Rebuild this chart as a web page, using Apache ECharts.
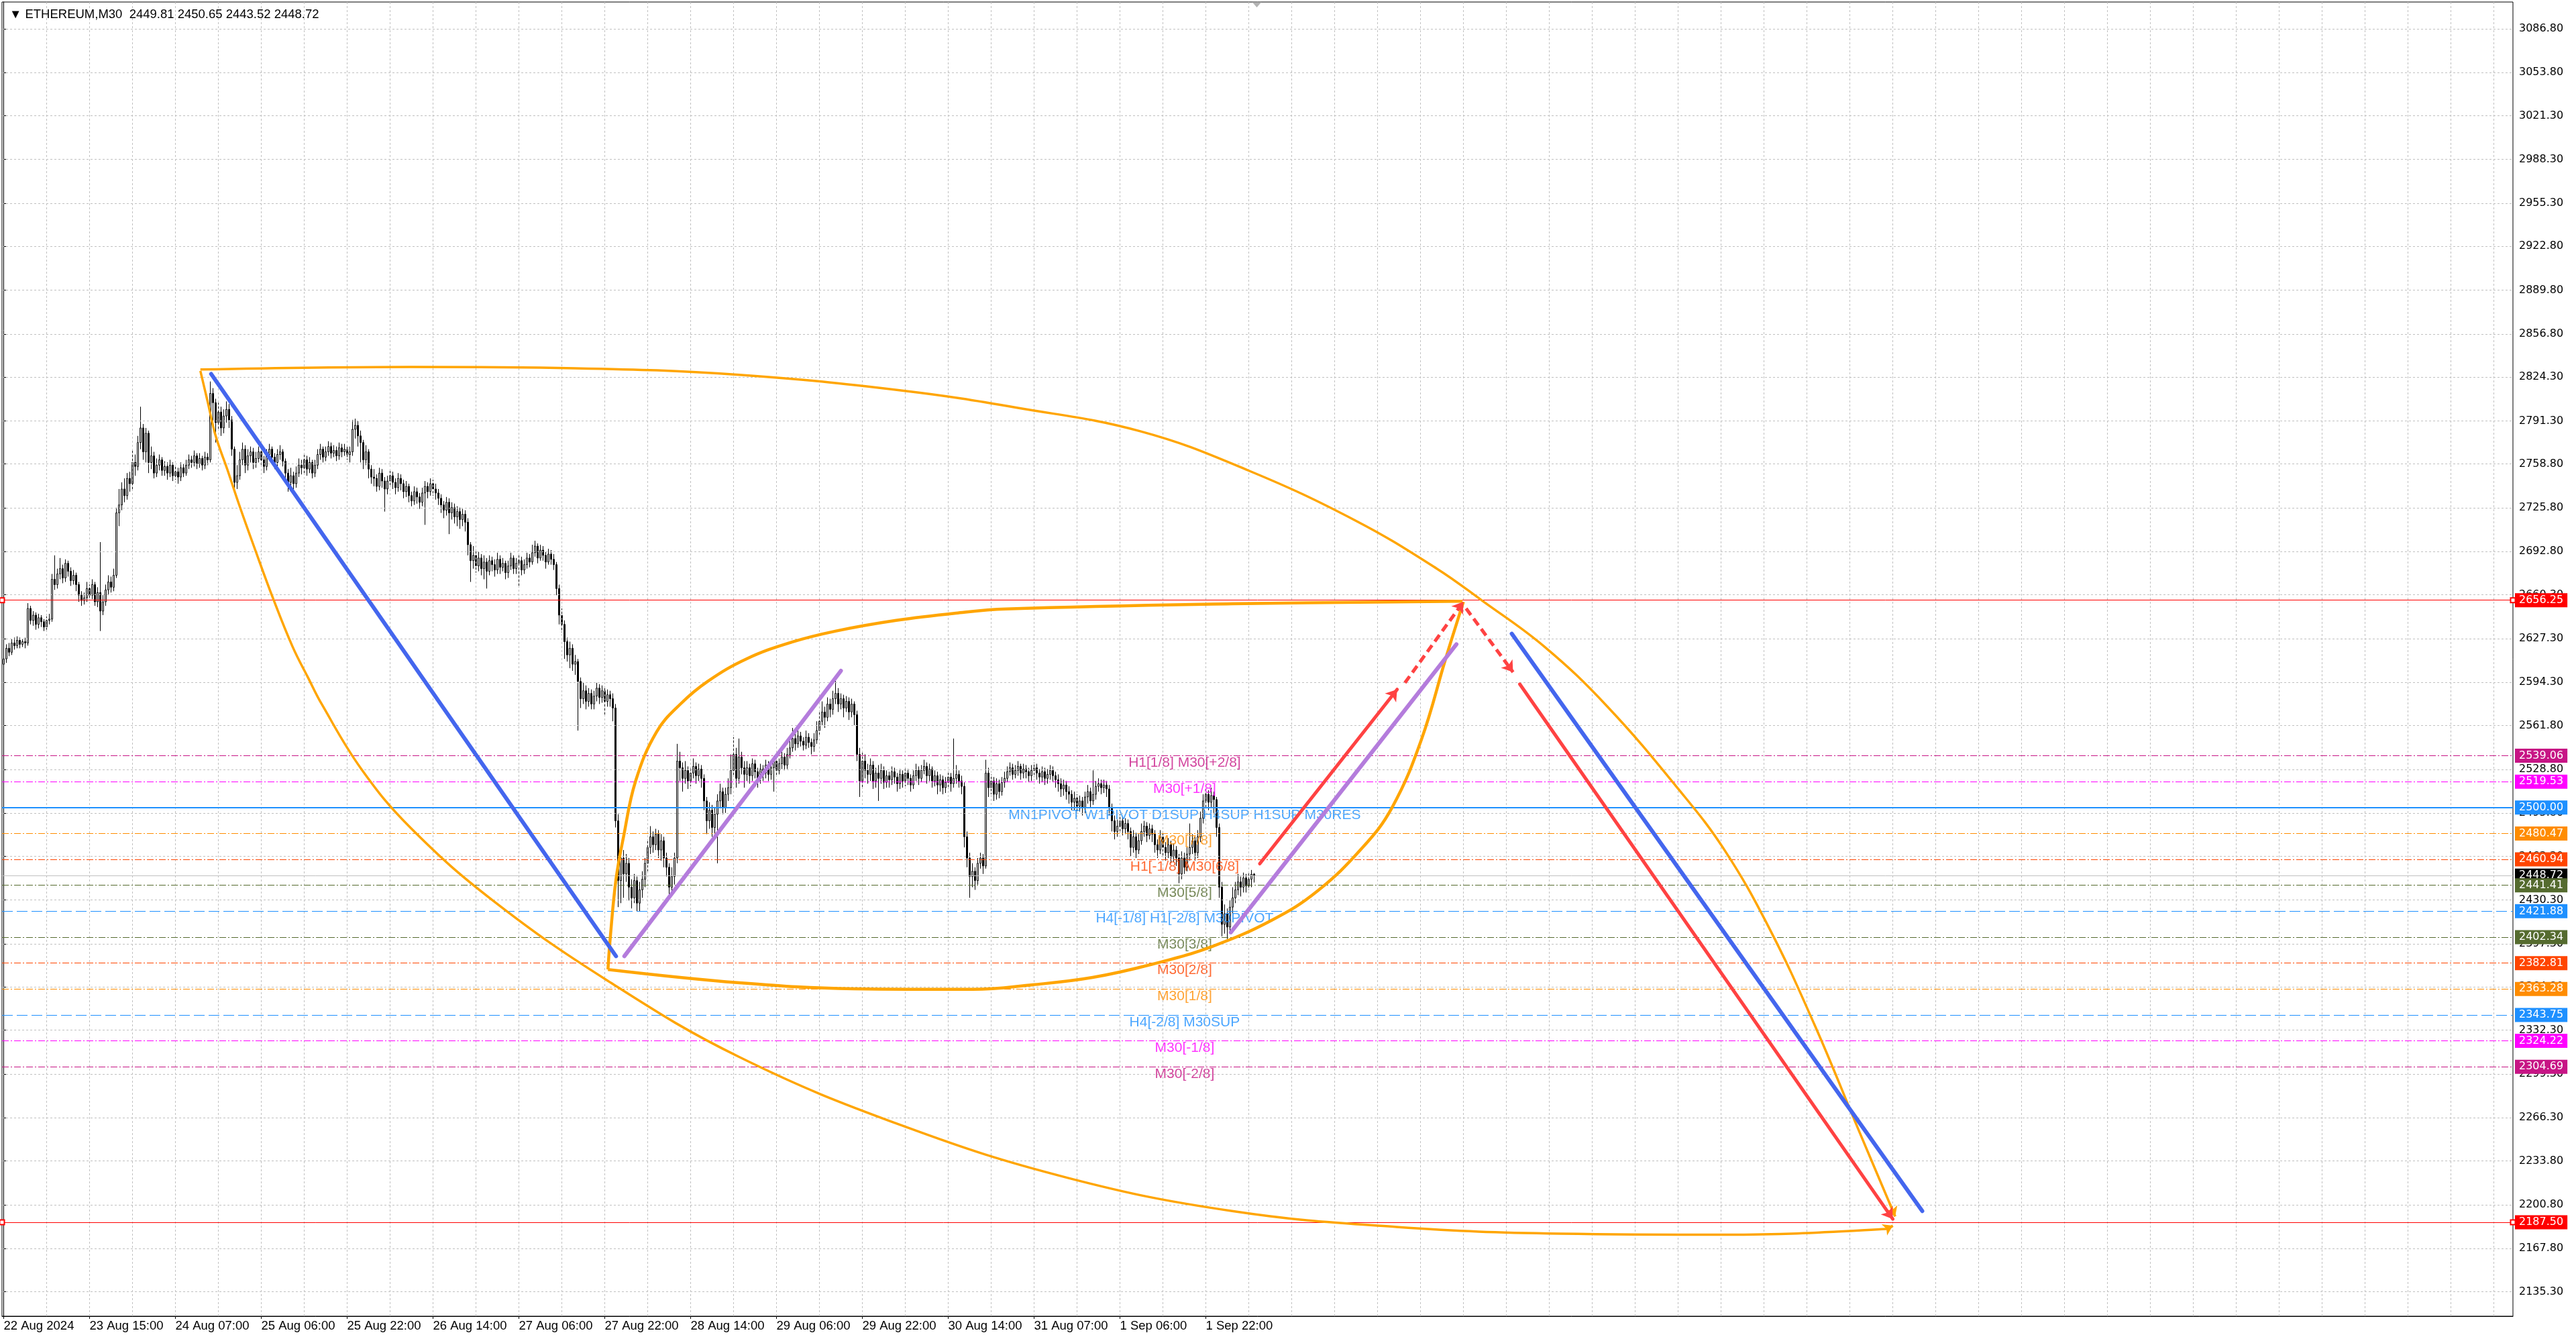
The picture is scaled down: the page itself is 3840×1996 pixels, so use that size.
<!DOCTYPE html>
<html><head><meta charset="utf-8">
<script src="https://cdn.jsdelivr.net/npm/echarts@6/dist/echarts.min.js"></script>
<style>html,body{margin:0;padding:0;background:#fff}#c{width:3840px;height:1996px}</style>
</head><body><div id="c"></div>
<script>
// ---------------- DATA ----------------
const headerOHLC = [2449.81, 2450.65, 2443.52, 2448.72];
const timeLabels = ['22 Aug 2024','23 Aug 15:00','24 Aug 07:00','25 Aug 06:00','25 Aug 22:00','26 Aug 14:00','27 Aug 06:00','27 Aug 22:00','28 Aug 14:00','29 Aug 06:00','29 Aug 22:00','30 Aug 14:00','31 Aug 07:00','1 Sep 06:00','1 Sep 22:00'];
const timeLabelBars = [0,32,64,96,128,160,192,224,256,288,320,352,384,416,448];
const priceTicks = [3086.80,3053.80,3021.30,2988.30,2955.30,2922.80,2889.80,2856.80,2824.30,2791.30,2758.80,2725.80,2692.80,2660.30,2627.30,2594.30,2561.80,2528.80,2495.80,2463.30,2430.30,2397.30,2364.80,2332.30,2299.30,2266.30,2233.80,2200.80,2167.80,2135.30];

const firstOpen = 2608;
const closes = [
2612,2620,2617,2624,2622,2626,2623,2625,2624,2650,
2641,2645,2638,2643,2640,2636,2641,2642,2672,2668,
2676,2680,2673,2684,2678,2671,2675,2668,2660,2656,
2658,2665,2660,2668,2655,2662,2648,2655,2664,2670,
2666,2675,2722,2728,2740,2735,2748,2744,2760,2757,
2775,2786,2768,2782,2760,2765,2752,2758,2762,2754,
2757,2752,2758,2750,2753,2749,2756,2752,2758,2762,
2760,2765,2759,2763,2758,2764,2762,2812,2805,2790,
2798,2786,2795,2800,2792,2770,2745,2750,2762,2770,
2758,2765,2768,2760,2763,2768,2762,2757,2766,2770,
2764,2760,2766,2768,2761,2752,2745,2750,2744,2752,
2758,2756,2762,2755,2760,2752,2758,2766,2770,2764,
2768,2772,2767,2769,2765,2771,2768,2770,2766,2768,
2785,2788,2780,2775,2762,2768,2755,2749,2748,2742,
2752,2746,2740,2746,2750,2745,2741,2748,2744,2738,
2742,2735,2731,2738,2734,2730,2737,2742,2738,2744,
2740,2737,2733,2728,2724,2730,2722,2726,2719,2723,
2717,2721,2715,2698,2686,2690,2682,2688,2680,2685,
2678,2686,2683,2679,2687,2681,2684,2677,2682,2688,
2680,2684,2686,2679,2683,2688,2685,2692,2697,2688,
2694,2690,2685,2691,2687,2683,2665,2645,2638,2625,
2615,2620,2608,2610,2595,2582,2588,2580,2586,2578,
2584,2590,2583,2588,2580,2585,2582,2575,2490,2445,
2462,2450,2458,2440,2432,2445,2428,2438,2446,2458,
2470,2478,2472,2480,2468,2475,2462,2455,2440,2448,
2462,2535,2530,2522,2528,2520,2526,2531,2524,2529,
2522,2505,2490,2498,2485,2495,2505,2512,2500,2510,
2515,2528,2540,2522,2538,2530,2525,2530,2524,2533,
2527,2522,2529,2526,2532,2525,2530,2535,2528,2533,
2538,2532,2540,2545,2552,2548,2554,2550,2547,2553,
2549,2546,2551,2558,2565,2572,2568,2578,2574,2582,
2586,2578,2582,2575,2580,2572,2578,2570,2540,2520,
2535,2528,2525,2532,2520,2526,2522,2528,2519,2524,
2521,2527,2523,2518,2525,2520,2526,2522,2517,2524,
2528,2522,2528,2531,2524,2529,2520,2524,2517,2521,
2515,2519,2523,2518,2522,2525,2520,2516,2478,2462,
2448,2452,2445,2458,2462,2456,2526,2515,2520,2510,
2518,2512,2519,2522,2527,2530,2525,2528,2531,2526,
2529,2527,2524,2528,2530,2526,2523,2527,2522,2525,
2528,2524,2521,2518,2514,2517,2512,2510,2504,2507,
2501,2505,2500,2508,2512,2505,2510,2516,2518,2515,
2517,2514,2500,2490,2482,2486,2490,2484,2488,2482,
2470,2478,2468,2475,2482,2486,2479,2484,2480,2472,
2468,2478,2470,2466,2472,2463,2468,2462,2450,2462,
2455,2465,2470,2475,2466,2478,2492,2505,2510,2504,
2509,2506,2485,2440,2412,2420,2410,2425,2432,2438,
2444,2440,2447,2441,2446,2449.81,2448.72];
const highs = [
2626,2623,2624,2627,2628,2629,2628,2627,2628,2654,
2652,2648,2647,2646,2645,2642,2644,2646,2676,2690,
2680,2688,2683,2687,2686,2681,2679,2677,2670,2663,
2662,2670,2668,2672,2670,2666,2700,2660,2668,2675,
2674,2680,2726,2740,2745,2748,2752,2753,2770,2766,
2780,2802,2789,2786,2784,2772,2768,2763,2766,2764,
2761,2760,2762,2760,2757,2756,2760,2759,2762,2766,
2765,2769,2767,2767,2765,2768,2767,2821,2816,2808,
2805,2802,2800,2806,2804,2795,2772,2758,2768,2775,
2773,2770,2772,2771,2768,2772,2771,2765,2770,2774,
2772,2767,2770,2773,2770,2763,2755,2756,2753,2757,
2763,2762,2766,2765,2764,2762,2762,2770,2774,2772,
2772,2776,2775,2773,2772,2775,2774,2774,2773,2772,
2792,2793,2791,2784,2777,2773,2770,2758,2755,2751,
2756,2755,2749,2750,2754,2753,2748,2752,2751,2747,
2746,2744,2738,2742,2741,2737,2741,2746,2745,2748,
2747,2744,2740,2736,2731,2734,2733,2730,2729,2727,
2726,2725,2724,2718,2700,2697,2694,2693,2691,2690,
2688,2690,2689,2687,2692,2690,2688,2686,2686,2692,
2690,2688,2690,2689,2687,2692,2691,2698,2701,2699,
2698,2697,2693,2695,2694,2691,2685,2668,2650,2641,
2628,2625,2623,2615,2612,2598,2594,2592,2590,2589,
2588,2594,2593,2592,2591,2589,2588,2586,2578,2495,
2472,2468,2465,2462,2446,2450,2448,2444,2452,2462,
2475,2486,2482,2484,2483,2480,2478,2466,2458,2455,
2466,2548,2542,2534,2535,2531,2530,2537,2534,2533,
2532,2525,2508,2504,2502,2500,2510,2518,2515,2515,
2522,2540,2553,2545,2552,2542,2535,2535,2533,2537,
2536,2530,2533,2532,2536,2535,2534,2539,2538,2537,
2542,2541,2545,2550,2560,2556,2558,2557,2553,2558,
2556,2552,2556,2565,2572,2580,2576,2583,2582,2588,
2597,2590,2586,2585,2584,2583,2582,2580,2573,2545,
2542,2540,2533,2537,2535,2530,2532,2533,2531,2528,
2527,2531,2530,2526,2529,2528,2530,2529,2525,2528,
2533,2531,2532,2536,2534,2533,2531,2528,2527,2525,
2524,2523,2527,2526,2552,2532,2528,2524,2519,2482,
2466,2458,2455,2462,2466,2465,2536,2530,2525,2523,
2522,2521,2523,2527,2531,2534,2533,2532,2535,2533,
2533,2532,2530,2532,2534,2533,2529,2531,2530,2529,
2532,2531,2527,2525,2522,2521,2520,2516,2513,2512,
2510,2509,2508,2512,2517,2515,2528,2520,2522,2521,
2521,2520,2517,2503,2494,2491,2495,2493,2492,2491,
2485,2483,2481,2480,2488,2490,2489,2488,2487,2483,
2476,2483,2481,2474,2477,2475,2473,2471,2465,2467,
2466,2470,2488,2480,2478,2483,2497,2510,2515,2513,
2515,2512,2508,2488,2444,2427,2424,2430,2440,2444,
2450,2448,2451,2450,2451,2453,2450.65];
const lows = [
2606,2609,2614,2615,2619,2620,2620,2621,2620,2622,
2638,2637,2634,2635,2636,2633,2634,2638,2640,2664,
2665,2672,2669,2670,2674,2667,2668,2663,2655,2652,
2653,2655,2656,2657,2652,2651,2633,2645,2652,2660,
2662,2663,2673,2712,2724,2730,2732,2738,2740,2750,
2754,2770,2762,2760,2752,2755,2748,2749,2754,2750,
2750,2747,2749,2746,2747,2744,2746,2749,2750,2755,
2756,2757,2755,2756,2754,2755,2758,2760,2790,2775,
2785,2780,2782,2790,2786,2765,2738,2740,2747,2758,
2752,2754,2760,2755,2756,2760,2757,2752,2754,2762,
2760,2755,2757,2762,2757,2748,2738,2741,2739,2741,
2749,2751,2752,2750,2752,2748,2749,2755,2762,2760,
2761,2765,2763,2764,2761,2762,2764,2765,2762,2760,
2765,2778,2772,2760,2755,2758,2748,2744,2742,2738,
2739,2741,2723,2736,2742,2740,2736,2738,2739,2733,
2734,2730,2727,2728,2729,2725,2727,2713,2733,2735,
2735,2732,2728,2722,2718,2720,2706,2717,2714,2712,
2710,2712,2708,2690,2670,2680,2677,2678,2675,2672,
2665,2675,2678,2674,2676,2676,2678,2672,2673,2679,
2676,2676,2667,2675,2676,2680,2681,2683,2689,2684,
2686,2686,2680,2683,2683,2679,2660,2638,2632,2612,
2610,2605,2603,2600,2558,2575,2578,2574,2576,2574,
2574,2580,2578,2579,2570,2576,2576,2565,2485,2425,
2428,2432,2444,2430,2424,2428,2422,2422,2432,2440,
2452,2465,2466,2468,2462,2460,2455,2448,2434,2436,
2442,2458,2520,2512,2518,2514,2516,2522,2518,2520,
2515,2498,2480,2484,2478,2480,2458,2500,2495,2496,
2505,2510,2524,2515,2518,2525,2515,2520,2518,2520,
2522,2515,2518,2520,2522,2520,2521,2512,2524,2525,
2529,2528,2529,2537,2542,2543,2545,2546,2543,2544,
2545,2540,2542,2548,2555,2562,2560,2565,2568,2570,
2578,2572,2574,2568,2572,2566,2568,2562,2535,2508,
2515,2522,2518,2520,2514,2515,2505,2518,2514,2515,
2515,2517,2518,2512,2514,2515,2516,2517,2512,2514,
2520,2517,2519,2525,2518,2520,2515,2516,2510,2512,
2510,2511,2514,2512,2515,2518,2515,2510,2470,2455,
2432,2440,2438,2442,2454,2450,2454,2508,2510,2505,
2506,2507,2509,2515,2519,2524,2521,2522,2524,2521,
2522,2522,2519,2520,2523,2521,2518,2519,2517,2518,
2521,2519,2515,2512,2508,2509,2506,2503,2498,2498,
2496,2497,2494,2496,2503,2500,2502,2506,2512,2510,
2511,2508,2494,2482,2476,2478,2481,2479,2480,2476,
2463,2466,2462,2465,2472,2478,2474,2476,2474,2466,
2462,2465,2464,2460,2462,2458,2459,2456,2443,2446,
2450,2452,2460,2465,2460,2462,2474,2488,2500,2498,
2500,2495,2478,2432,2403,2405,2401,2407,2420,2428,
2434,2433,2436,2436,2438,2440,2443.52];

// Murrey-style levels
const levelPrices = [2539.06,2519.53,2500.00,2480.47,2460.94,2441.41,2421.88,2402.34,2382.81,2363.28,2343.75,2324.22,2304.69];
const levelNames = ['H1[1/8] M30[+2/8]','M30[+1/8]','MN1PIVOT W1PIVOT D1SUP H4SUP H1SUP M30RES','M30[7/8]','H1[-1/8] M30[6/8]','M30[5/8]','H4[-1/8] H1[-2/8] M30PIVOT','M30[3/8]','M30[2/8]','M30[1/8]','H4[-2/8] M30SUP','M30[-1/8]','M30[-2/8]'];
const targetLevels = [2656.25, 2187.50];
const currentPrice = 2448.72;

// Drawn objects: [bar index, price]
const arcTop = [[73.3,2830],[151.7,2832],[212.9,2831],[274.2,2826],[335.4,2814],[378.3,2801],[423.6,2783.5],[463.8,2754],[504,2716],[534.1,2680],[550.9,2656],[574.3,2621],[597.7,2576],[624.5,2513],[641.3,2468],[658,2409],[674.7,2337],[691.5,2256],[704.9,2192]];
const arcOuterLow = [[73.3,2829],[76.1,2805],[79,2780],[83.3,2755],[87.6,2729],[93.4,2696],[100.5,2657],[107.7,2621],[113.4,2598],[118.5,2578],[133.3,2529],[151.7,2484.6],[182.3,2430],[225.2,2369.4],[274.2,2312],[335.4,2260],[396.6,2221],[457.8,2196],[519.1,2184],[580.3,2179],[641.5,2178.2],[701.5,2182.5],[704,2185]];
const arcInnerHigh = [[225.2,2378],[226,2400.7],[228.2,2446],[231,2478],[235.5,2520],[243.3,2557],[252.2,2578],[262.3,2595],[276.8,2612],[293.5,2624.5],[310.2,2633],[332.6,2641],[354.9,2646.5],[373.6,2649.6],[457.9,2653.5],[543.6,2655.5]];
const arcInnerLow = [[225.2,2378],[274.2,2368],[317,2363.5],[361.1,2363],[383.5,2366.5],[405.8,2372],[428.1,2382],[450.4,2395.4],[472.7,2415.3],[489.5,2437],[506.2,2469.4],[517.4,2500],[528.3,2551],[537.5,2613],[544,2655]];
const blueLines = [[[77.3,2826.7],[228.2,2388]], [[562,2631],[715,2196]]];
const purpleLines = [[[231.3,2388],[312,2603]], [[457.3,2406],[541.4,2623]]];
const redSolid = [[[468.1,2457.7],[519.3,2589]], [[565,2593],[704,2190]]];
const redDashed = [[[522.2,2594],[544,2655]], [[545,2650],[562.5,2602]]];

// ---------------- LAYOUT / STYLE ----------------
const X_MIN = -0.625, X_MAX = 935.125, Y_MIN = 2116.8, Y_MAX = 3106.9;
const LABEL_BAR = 440.1;
const levelColors = ['#C71585','#FF00FF','#1E90FF','#FF8C00','#FF4500','#556B2F','#1E90FF','#556B2F','#FF4500','#FF8C00','#1E90FF','#FF00FF','#C71585'];
const levelKinds = ['dd','dd','solid','dd','dd','dd','dash','dd','dd','dd','dash','dd','dd'];
const DASHDOT = [10,3,2,3], DASH = [16,6];
const boxFont = {fontFamily:'DejaVu Sans', fontSize:16, lineHeight:17, color:'#fff', padding:[2,6,2,6]};

const candleData = closes.map((c,i) => [i, i===0 ? firstOpen : closes[i-1], c, lows[i], highs[i]]);

const vGrid = []; for (let b = 16; b < X_MAX; b += 16) vGrid.push({xAxis: b});
const hGrid = priceTicks.map(t => ({yAxis: t}));

function boxLabel(bg, v){ return Object.assign({show:true, position:'end', distance:3, backgroundColor:bg, formatter: v.toFixed(2)}, boxFont); }

const levelMarks = levelPrices.map((p,i) => ({
  yAxis: p,
  lineStyle: {color: levelColors[i], width: levelKinds[i]==='solid'?2:1, type: levelKinds[i]==='solid'?'solid':(levelKinds[i]==='dash'?DASH:DASHDOT)},
  label: boxLabel(levelColors[i], p)
}));

function arrowSeg(pts){ const a = pts[pts.length-2], b = pts[pts.length-1]; const t = 0.85; return [[a[0]+(b[0]-a[0])*t, a[1]+(b[1]-a[1])*t], b]; }

const ORANGE = '#FFA500', BLUE = '#4466EE', PURPLE = '#B47CDC', RED = '#FF4242';
const curve = (pts, w) => ({type:'line', data: pts, smooth: 0.4, showSymbol:false, symbol:'none', lineStyle:{color:ORANGE, width:w}, z:5, silent:true, clip:true});
const seg = (data, color, w, extra) => Object.assign({type:'lines', coordinateSystem:'cartesian2d', z:6, silent:true, symbol:'none',
  lineStyle:{color:color, width:w, opacity:1, cap:'round'}, data: data.map(c=>({coords:c}))}, extra||{});

const option = {
  animation: false,
  backgroundColor: '#ffffff',
  title: {text: '\u25BC ETHEREUM,M30  ' + headerOHLC.map(v=>v.toFixed(2)).join(' '), left: 9, top: 7,
    textStyle: {fontFamily:'Liberation Sans', fontSize:18.5, fontWeight:'normal', color:'#000'}},
  grid: {left: 3, right: 94, top: 3, bottom: 34, show: true, borderColor: '#000', borderWidth: 1},
  xAxis: {type:'value', min:X_MIN, max:X_MAX,
    axisLine:{show:true, lineStyle:{color:'#000'}}, splitLine:{show:false},
    axisTick:{show:true, customValues: timeLabelBars, length:4, lineStyle:{color:'#000'}},
    axisLabel:{customValues: timeLabelBars, formatter: v => timeLabels[timeLabelBars.indexOf(Math.round(v))] || '', align:'left', margin:5,
      fontFamily:'Liberation Sans', fontSize:18.5, color:'#000'}},
  yAxis: {type:'value', position:'right', min:Y_MIN, max:Y_MAX,
    axisLine:{show:true, lineStyle:{color:'#000'}}, splitLine:{show:false},
    axisTick:{show:true, customValues: priceTicks, length:4, lineStyle:{color:'#000'}},
    axisLabel:{customValues: priceTicks, formatter: v => v.toFixed(2), margin:9, fontFamily:'DejaVu Sans', fontSize:16, color:'#000'}},
  series: [
    {type:'line', data:[], z:1, silent:true,
      markLine:{silent:true, symbol:'none', animation:false, label:{show:false},
        lineStyle:{color:'#C0C0C0', width:1, type:[3,3]}, data: vGrid.concat(hGrid)}},
    {type:'line', data:[], z:2, silent:true,
      markLine:{silent:true, symbol:'none', animation:false,
        data:[{yAxis: currentPrice, lineStyle:{color:'#C0C0C0', width:1, type:'solid'}, label: boxLabel('#000000', currentPrice)}]}},
    {type:'line', data:[], z:2, silent:true,
      markLine:{silent:true, symbol:'none', animation:false, data: levelMarks}},
    {type:'line', data:[], z:2, silent:true,
      markLine:{silent:true, symbol:['emptyRect','emptyRect'], symbolSize:7, animation:false,
        data: targetLevels.map(p => ({yAxis:p, lineStyle:{color:'#FF0000', width:1, type:'solid'}, itemStyle:{color:'#FF0000'}, label: boxLabel('#FF0000', p)}))}},
    {type:'candlestick', data: candleData, encode:{x:0, y:[1,2,3,4]}, barWidth:2, z:3, silent:true,
      itemStyle:{color:'#FFFFFF', color0:'#000000', borderColor:'#000000', borderColor0:'#000000', borderWidth:1}},
    {type:'scatter', symbolSize:0, z:4, silent:true,
      data: levelPrices.map((p,i)=>({value:[LABEL_BAR,p], label:{color: levelColors[i]}})),
      label:{show:true, position:'bottom', distance:0, formatter: p => levelNames[p.dataIndex],
        fontFamily:'Liberation Sans', fontSize:21, lineHeight:22}},
    curve(arcTop, 3.5), curve(arcOuterLow, 3.5), curve(arcInnerHigh, 4.5), curve(arcInnerLow, 4.5),
    {type:'lines', coordinateSystem:'cartesian2d', z:5, silent:true, symbol:['none','arrow'], symbolSize:14,
      lineStyle:{color:ORANGE, width:3.5, opacity:1}, data:[{coords: arrowSeg(arcTop)}, {coords: arrowSeg(arcOuterLow)}]},
    seg(blueLines, BLUE, 6),
    seg(purpleLines, PURPLE, 6),
    seg(redSolid, RED, 5, {symbol:['none','arrow'], symbolSize:16}),
    seg(redDashed, RED, 5, {symbol:['none','arrow'], symbolSize:16, lineStyle:{color:RED, width:5, opacity:1, type:[12,7]}}),
    {type:'scatter', z:7, silent:true, symbol:'triangle', symbolRotate:180, symbolSize:[14,8], symbolOffset:[0,4],
      itemStyle:{color:'#A0A0A0'}, data:[[closes.length, Y_MAX]]}
  ]
};
const chart = echarts.init(document.getElementById('c'), null, {renderer:'canvas'});
chart.setOption(option);
</script>
</body></html>
